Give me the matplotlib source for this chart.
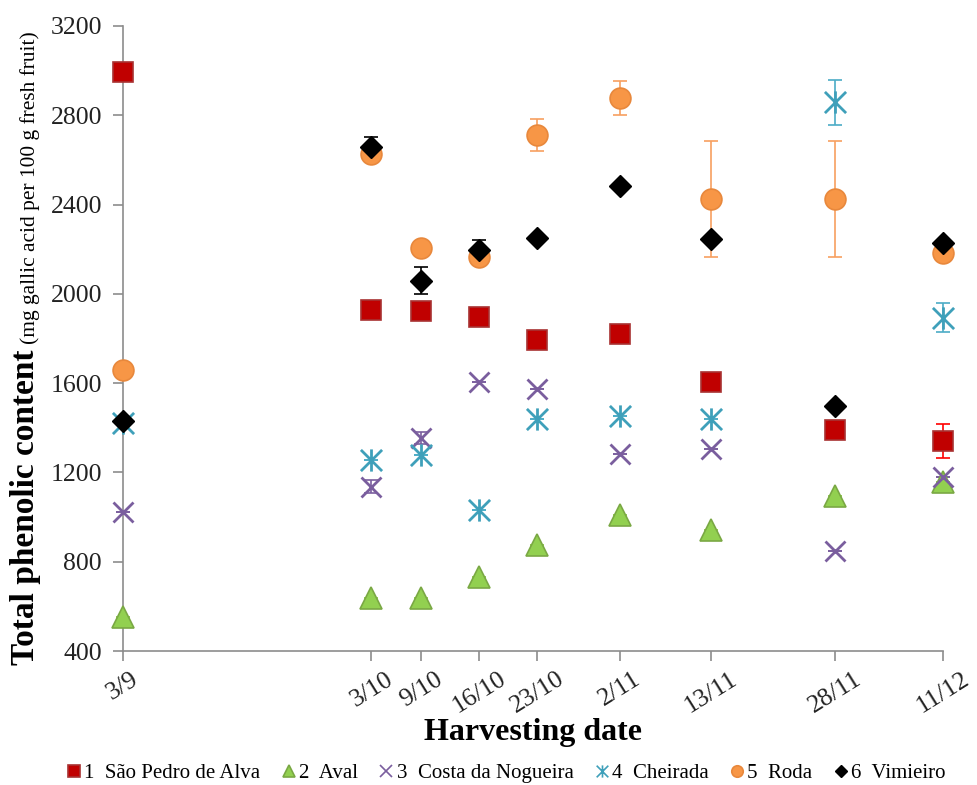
import matplotlib
matplotlib.use("Agg")
import matplotlib.pyplot as plt
import matplotlib.transforms as mtransforms
from matplotlib.path import Path
from matplotlib.lines import Line2D

plt.rcParams['font.family'] = ['Liberation Serif', 'DejaVu Serif']

# Days since 3 September
days = [0, 30, 36, 43, 50, 60, 71, 86, 99]
date_labels = ["3/9", "3/10", "9/10", "16/10", "23/10", "2/11", "13/11", "28/11", "11/12"]

s1_name = "1  São Pedro de Alva"
s1 = [2992, 1928, 1923, 1898, 1794, 1820, 1606, 1390, 1342]
s1_err = [0, 0, 0, 0, 0, 0, 0, 0, 76]

s2_name = "2  Aval"
s2 = [552, 637, 637, 733, 875, 1009, 942, 1095, 1157]
s2_err = [0, 0, 0, 0, 0, 0, 0, 0, 0]

s3_name = "3  Costa da Nogueira"
s3 = [1024, 1136, 1354, 1606, 1573, 1282, 1305, 849, 1180]
s3_err = [0, 30, 25, 0, 0, 0, 0, 0, 0]

s4_name = "4  Cheirada"
s4 = [1421, 1255, 1278, 1031, 1439, 1452, 1439, 2858, 1893]
s4_err = [0, 0, 0, 0, 0, 0, 0, 100, 65]

s5_name = "5  Roda"
s5 = [1658, 2626, 2204, 2164, 2712, 2877, 2425, 2425, 2183]
s5_err = [0, 0, 0, 0, 70, 75, 258, 258, 0]

s6_name = "6  Vimieiro"
s6 = [1432, 2656, 2059, 2197, 2250, 2483, 2245, 1497, 2228]
s6_err = [0, 47, 60, 45, 0, 0, 0, 0, 0]

yticks = [400, 800, 1200, 1600, 2000, 2400, 2800, 3200]

asterisk = Path([(-1, -1), (1, 1), (-1, 1), (1, -1), (0, -1.05), (0, 1.05)],
                [Path.MOVETO, Path.LINETO, Path.MOVETO, Path.LINETO, Path.MOVETO, Path.LINETO])

fig = plt.figure(figsize=(9.77, 7.85), dpi=100)
ax = fig.add_axes([123/977, 1-651/785, (943-123)/977, (651-26)/785])

series = [
    (s1, s1_err, s1_name, dict(marker='s', ms=15, mfc='#C00000', mec='#A83232', mew=1.2), '#FF0000'),
    (s2, s2_err, s2_name, dict(marker='^', ms=16, mfc='#92D050', mec='#7AA844', mew=1.2), '#92D050'),
    (s3, s3_err, s3_name, dict(marker='x', ms=15, mfc='none', mec='#7A5E9E', mew=2), '#7A5E9E'),
    (s4, s4_err, s4_name, dict(marker=asterisk, ms=16, mfc='none', mec='#3FA0BA', mew=2), '#4BACC6'),
    (s5, s5_err, s5_name, dict(marker='o', ms=15, mfc='#F79646', mec='#E8883C', mew=1.2), '#F7A060'),
    (s6, s6_err, s6_name, dict(marker='D', ms=11.5, mfc='#000000', mec='#000000', mew=1), '#000000'),
]

handles = []
for vals, err, name, mk, ecol in series:
    ax.errorbar(days, vals, yerr=err, fmt='none', ecolor=ecol, elinewidth=1.2,
                capsize=5, capthick=1.2, clip_on=False, zorder=2)
    ax.plot(days, vals, linestyle='none', clip_on=False, zorder=3, **mk)
    lmk = dict(mk)
    lmk['ms'] = mk['ms'] * 0.55
    if mk['marker'] == 'x' or mk['marker'] is asterisk:
        lmk['mew'] = 1.2
    handles.append(Line2D([], [], linestyle='none', label=name, **lmk))

ax.set_xlim(0, 99)
ax.set_ylim(400, 3200)
ax.set_yticks(yticks)
ax.set_yticklabels([str(v) for v in yticks])
ax.set_xticks(days)
ax.set_xticklabels(date_labels, rotation=32, ha='center', va='top')
offset = mtransforms.ScaledTranslation(6/100, 0, fig.dpi_scale_trans)
for lbl in ax.get_xticklabels():
    lbl.set_transform(lbl.get_transform() + offset)

for s in ['top', 'right']:
    ax.spines[s].set_visible(False)
for s in ['left', 'bottom']:
    ax.spines[s].set_color('#8C8C8C')
    ax.spines[s].set_linewidth(1.2)
ax.tick_params(axis='both', colors='#8C8C8C', labelcolor='#222222', labelsize=18.5,
               length=7.2, width=1.2, direction='out')
ax.tick_params(axis='y', pad=8)
ax.tick_params(axis='x', pad=5)

ax.set_xlabel("Harvesting date", fontsize=23, fontweight='bold', labelpad=0)

fig.text(26/977, 1-507/785, "Total phenolic content", rotation=90, fontsize=24,
         fontweight='bold', ha='center', va='center')
fig.text(30/977, 1-188/785, "(mg gallic acid per 100 g fresh fruit)", rotation=90,
         fontsize=15.4, ha='center', va='center')

fig.legend(handles=handles, loc='center', bbox_to_anchor=(505/977, 1-773/785), ncol=6,
           frameon=False, fontsize=15, handletextpad=0.05, columnspacing=0.9,
           handlelength=0.9)

fig.savefig("out.png", dpi=100)
